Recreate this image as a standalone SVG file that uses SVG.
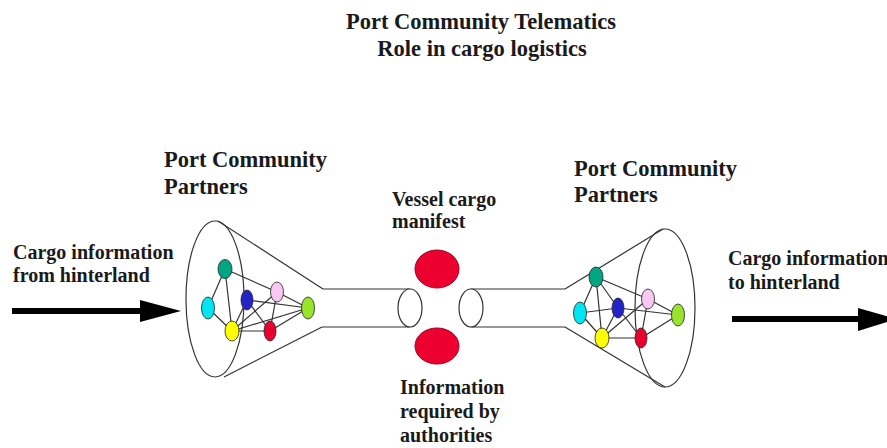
<svg xmlns="http://www.w3.org/2000/svg" width="887" height="448" viewBox="0 0 887 448">
<defs>
<style>
.lbl{font-family:"Liberation Serif","Times New Roman",serif;font-weight:bold;fill:#1a1a1a}
.big{font-size:22.5px}
.sm{font-size:20px}
.out{fill:none;stroke:#333;stroke-width:1.2}
.tube{fill:#fff;stroke:#333;stroke-width:1.2}
.edge{stroke:#333;stroke-width:1.2;fill:none}
.nd{stroke:#222;stroke-width:0.8}
.teal{fill:#00a682}.cyan{fill:#00e6f0}.blue{fill:#2424c4}.pink{fill:#f6c8f2}
.green{fill:#98e42a}.yellow{fill:#ffff00}.red{fill:#e8002e}
.msg{fill:#ec0030;stroke:#a00020;stroke-width:1}
.arrow{fill:#000}
</style>
</defs>
<rect width="887" height="448" fill="#fff"/>

<g id="title">
<text class="lbl big" x="481" y="29" text-anchor="middle">Port Community Telematics</text>
<text class="lbl big" x="482" y="56" text-anchor="middle">Role in cargo logistics</text>
</g>

<g id="input-label">
<text class="lbl sm" x="13" y="259">Cargo information</text>
<text class="lbl sm" x="13" y="282">from hinterland</text>
</g>

<g id="output-label">
<text class="lbl sm" x="728" y="265">Cargo information</text>
<text class="lbl sm" x="728" y="289">to hinterland</text>
</g>

<g id="left-partners">
<text class="lbl big" x="164" y="167">Port Community</text>
<text class="lbl big" x="164" y="194">Partners</text>
<ellipse class="out" cx="215" cy="299" rx="29" ry="78"/>
<line class="out" x1="218" y1="221" x2="323" y2="289"/>
<line class="out" x1="224" y1="377" x2="322" y2="327"/>
</g>

<g id="left-tube">
<line class="out" x1="323" y1="289" x2="410" y2="289"/>
<line class="out" x1="322" y1="327" x2="410" y2="327"/>
<ellipse class="tube" cx="410" cy="308" rx="12" ry="19"/>
</g>

<g id="right-tube">
<line class="out" x1="471" y1="289" x2="565" y2="289"/>
<line class="out" x1="471" y1="327" x2="565" y2="327"/>
<ellipse class="tube" cx="471" cy="308" rx="12" ry="19"/>
</g>

<g id="right-partners">
<text class="lbl big" x="574" y="176">Port Community</text>
<text class="lbl big" x="574" y="202">Partners</text>
<ellipse class="out" cx="665" cy="308" rx="30" ry="79"/>
<line class="out" x1="565" y1="289" x2="663" y2="229"/>
<line class="out" x1="565" y1="327" x2="665" y2="387"/>
</g>

<g id="manifest">
<text class="lbl sm" x="392" y="206">Vessel cargo</text>
<text class="lbl sm" x="392" y="228">manifest</text>
<ellipse class="msg" cx="437" cy="269" rx="22" ry="19"/>
</g>

<g id="authorities">
<ellipse class="msg" cx="437" cy="346" rx="22" ry="18"/>
<text class="lbl sm" x="400" y="394">Information</text>
<text class="lbl sm" x="400" y="418">required by</text>
<text class="lbl sm" x="400" y="442">authorities</text>
</g>

<g id="connectors">
<g id="left-links">
<line class="edge" x1="225" y1="269" x2="208" y2="308"/>
<line class="edge" x1="225" y1="269" x2="232" y2="331"/>
<line class="edge" x1="225" y1="269" x2="277" y2="292"/>
<line class="edge" x1="208" y1="308" x2="232" y2="331"/>
<line class="edge" x1="247" y1="300" x2="232" y2="331"/>
<line class="edge" x1="247" y1="300" x2="270" y2="331"/>
<line class="edge" x1="247" y1="300" x2="308" y2="308"/>
<line class="edge" x1="277" y1="292" x2="308" y2="308"/>
<line class="edge" x1="277" y1="292" x2="232" y2="331"/>
<line class="edge" x1="277" y1="292" x2="270" y2="331"/>
<line class="edge" x1="232" y1="331" x2="270" y2="331"/>
<line class="edge" x1="232" y1="331" x2="308" y2="308"/>
<line class="edge" x1="270" y1="331" x2="308" y2="308"/>
</g>
<g id="right-links">
<line class="edge" x1="596" y1="277" x2="580" y2="313"/>
<line class="edge" x1="596" y1="277" x2="602" y2="338"/>
<line class="edge" x1="596" y1="277" x2="618" y2="308"/>
<line class="edge" x1="596" y1="277" x2="648" y2="299"/>
<line class="edge" x1="580" y1="313" x2="618" y2="308"/>
<line class="edge" x1="580" y1="313" x2="602" y2="338"/>
<line class="edge" x1="618" y1="308" x2="602" y2="338"/>
<line class="edge" x1="618" y1="308" x2="641" y2="338"/>
<line class="edge" x1="618" y1="308" x2="678" y2="315"/>
<line class="edge" x1="648" y1="299" x2="678" y2="315"/>
<line class="edge" x1="648" y1="299" x2="641" y2="338"/>
<line class="edge" x1="648" y1="299" x2="602" y2="338"/>
<line class="edge" x1="602" y1="338" x2="641" y2="338"/>
<line class="edge" x1="641" y1="338" x2="678" y2="315"/>
</g>
<g id="input-arrow">
<rect class="arrow" x="12" y="308" width="132" height="6"/>
<polygon class="arrow" points="140,300 181,311 140,322"/>
</g>
<g id="output-arrow">
<rect class="arrow" x="732" y="316" width="130" height="6"/>
<polygon class="arrow" points="858,308 897,319 858,331"/>
</g>
</g>

<g id="left-nodes">
<ellipse id="l-teal" class="nd teal" cx="225" cy="269" rx="7" ry="9.5"/>
<ellipse id="l-cyan" class="nd cyan" cx="208" cy="308" rx="6.5" ry="11"/>
<ellipse id="l-blue" class="nd blue" cx="247" cy="300" rx="6" ry="10"/>
<ellipse id="l-pink" class="nd pink" cx="277" cy="292" rx="6.5" ry="10"/>
<ellipse id="l-green" class="nd green" cx="308" cy="308" rx="6.5" ry="11"/>
<ellipse id="l-yellow" class="nd yellow" cx="232" cy="331" rx="7" ry="10"/>
<ellipse id="l-red" class="nd red" cx="270" cy="331" rx="6" ry="10"/>
</g>

<g id="right-nodes">
<ellipse id="r-teal" class="nd teal" cx="596" cy="277" rx="7" ry="10"/>
<ellipse id="r-cyan" class="nd cyan" cx="580" cy="313" rx="6.5" ry="11"/>
<ellipse id="r-blue" class="nd blue" cx="618" cy="308" rx="6" ry="10"/>
<ellipse id="r-pink" class="nd pink" cx="648" cy="299" rx="6.5" ry="10"/>
<ellipse id="r-green" class="nd green" cx="678" cy="315" rx="6.5" ry="11"/>
<ellipse id="r-yellow" class="nd yellow" cx="602" cy="338" rx="7" ry="10"/>
<ellipse id="r-red" class="nd red" cx="641" cy="338" rx="6" ry="10"/>
</g>
</svg>
